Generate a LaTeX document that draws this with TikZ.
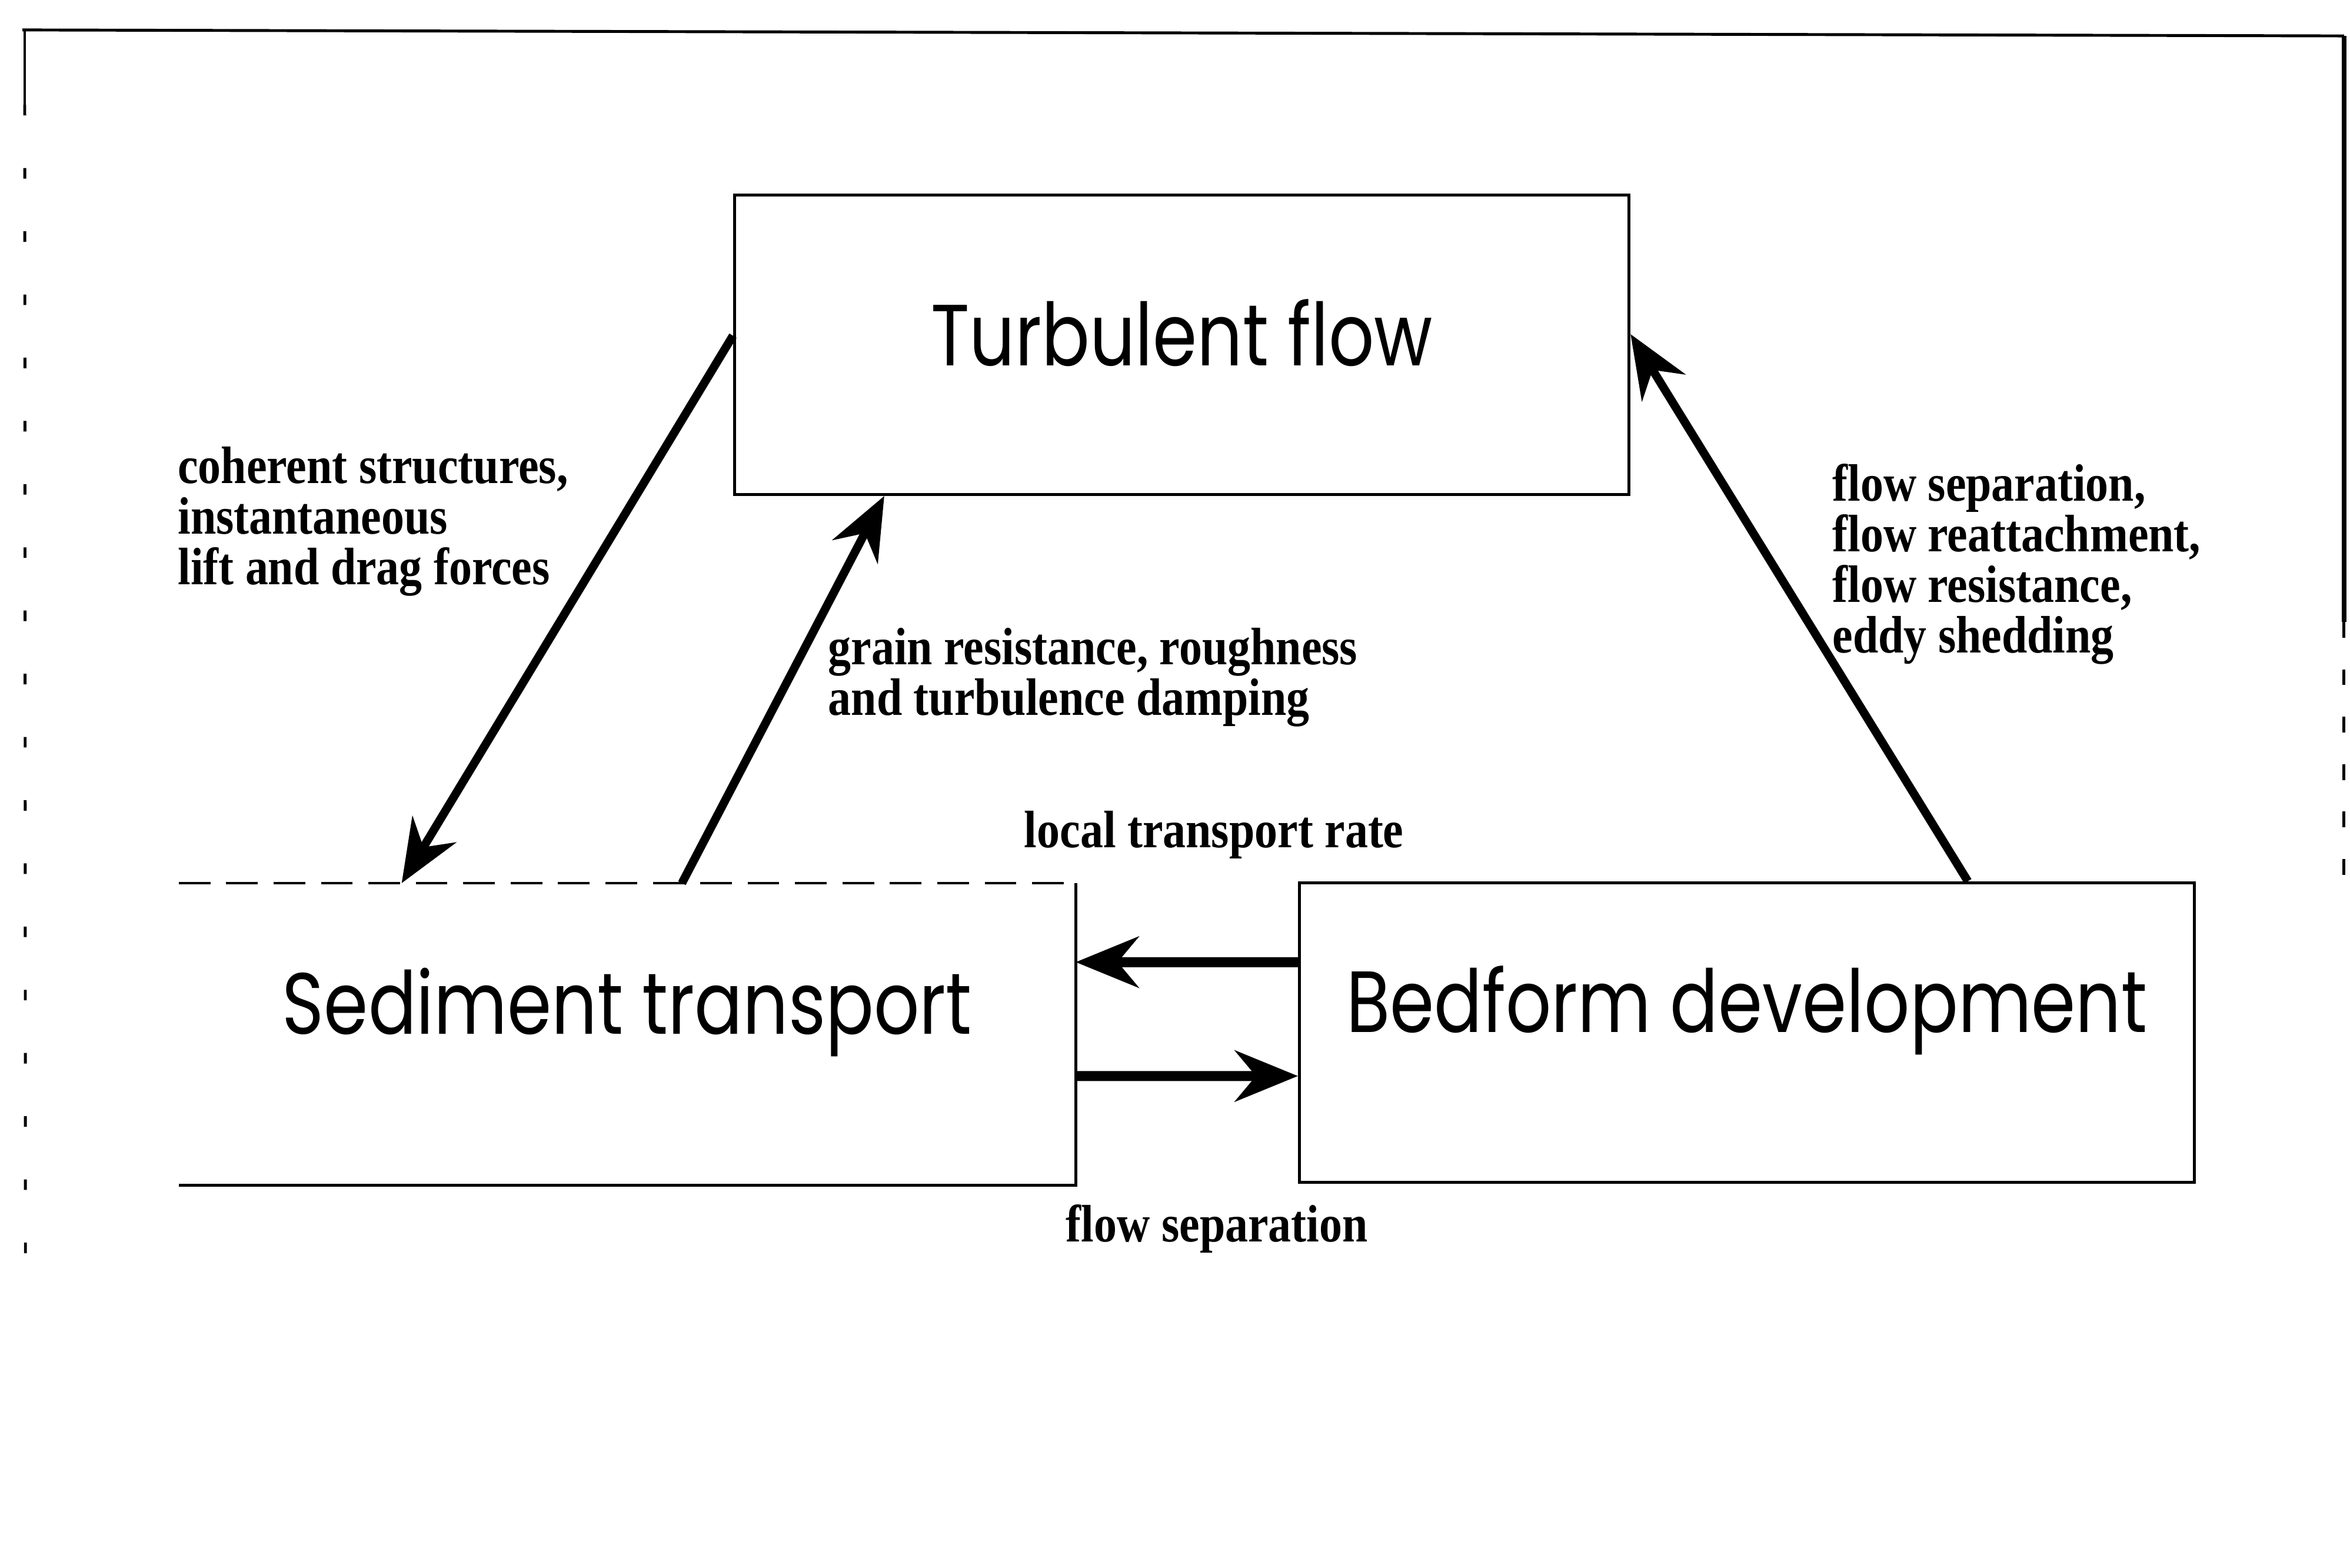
\documentclass[tikz,border=0pt]{standalone}
\usepackage{fontspec}
\newfontfamily\boxfont[FakeStretch=0.82]{Poppins}
\newfontfamily\labfont[FakeStretch=0.87]{Liberation Serif}
\usetikzlibrary{arrows.meta}

\begin{document}
\begin{tikzpicture}[
  every node/.style={inner sep=0pt, align=left, font=\labfont\bfseries\fontsize{10}{9.6}\selectfont},
  procbox/.style={rectangle, minimum width=5.97cm, minimum height=2cm,
    font=\boxfont\fontsize{16.5}{19}\selectfont, text height=0.43cm, text depth=0.43cm},
  boxline/.style={line width=0.55pt},
  link/.style={line width=1.6pt, -{Stealth[length=4.2mm,width=3.4mm,inset=1.4mm]}},
  hlink/.style={link, line width=1.9pt}]
  \useasboundingbox (0,0) rectangle (15.68,10.46);
  \draw[boxline] (0.15,10.26) -- (15.64,10.22);
  \draw[boxline] (0.165,10.26) -- (0.165,9.76);
  \draw[boxline, dash pattern=on 2pt off 10pt] (0.165,9.76) -- (0.17,1.96);
  \draw[line width=0.9pt] (15.64,10.22) -- (15.64,6.31);
  \draw[boxline, dash pattern=on 3pt off 6pt] (15.64,6.31) -- (15.64,4.51);

  \node[procbox, draw, boxline, text depth=0.15cm] (turb) at (7.885,8.16) {Turbulent flow};
  \node[procbox] (sed) at (4.185,3.56) {Sediment transport};
  \draw[boxline, dash pattern=on 6pt off 3pt] (sed.north west) -- (sed.north east);
  \draw[boxline] (sed.north east) -- (sed.south east) -- (sed.south west);
  \node[procbox, draw, boxline] (bed) at (11.655,3.57) {Bedform development};

  \node[anchor=west] (coh) at (1.18,6.98) {coherent structures,\\instantaneous\\lift and drag forces};
  \node[anchor=west] (grain) at (5.52,5.94) {grain resistance, roughness\\and turbulence damping};
  \node (ltr) at (8.10,4.89) {local transport rate};
  \node (fsep) at (8.12,2.26) {flow separation};
  \node[anchor=west] (bedlab) at (12.22,6.695) {flow separation,\\flow reattachment,\\flow resistance,\\eddy shedding};

  \draw[link] ([yshift=0.06cm]turb.west) -- ([xshift=-1.505cm]sed.north);
  \draw[link] ([xshift=0.365cm]sed.north) -- ([xshift=-1.985cm]turb.south);
  \draw[link] ([xshift=1.475cm]bed.north) -- ([yshift=0.07cm]turb.east);
  \draw[hlink] ([yshift=0.47cm]bed.west) -- ([yshift=0.48cm]sed.east);
  \draw[hlink] ([yshift=-0.28cm]sed.east) -- ([yshift=-0.29cm]bed.west);
\end{tikzpicture}
\end{document}
